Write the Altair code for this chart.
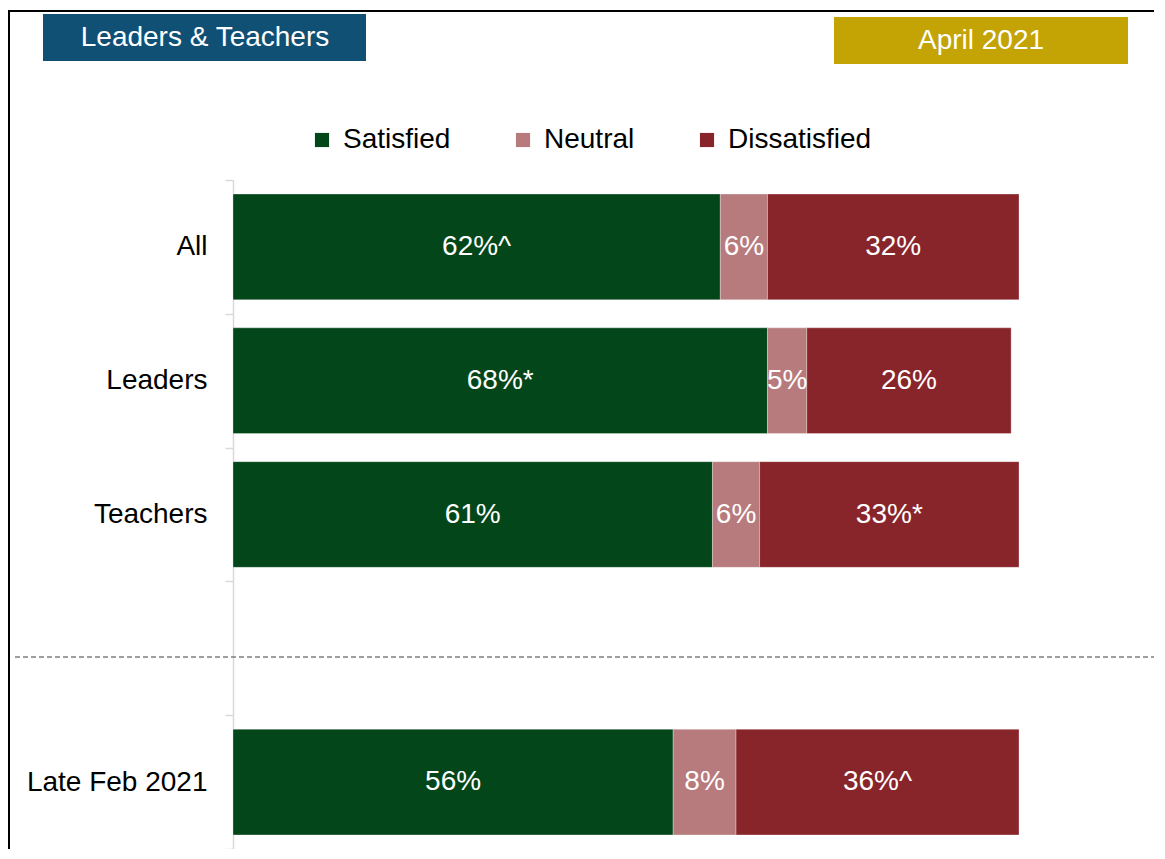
import altair as alt
import pandas as pd

groups = ["All", "Leaders", "Teachers", "Late Feb 2021"]
y_order = ["All", "Leaders", "Teachers", " ", "Late Feb 2021"]
responses = ["Satisfied", "Neutral", "Dissatisfied"]
satisfied = [62, 68, 61, 56]
neutral = [6, 5, 6, 8]
dissatisfied = [32, 26, 33, 36]
sat_marks = ["^", "*", "", ""]
neu_marks = ["", "", "", ""]
dis_marks = ["", "", "*", "^"]
colors = ["#03461A", "#B87B7D", "#88252B"]

FONT = "Liberation Sans"
FS = 28

rows = []
for i, g in enumerate(groups):
    for j, (r, vals, marks) in enumerate(zip(responses, [satisfied, neutral, dissatisfied],
                                            [sat_marks, neu_marks, dis_marks])):
        rows.append({"group": g, "response": r, "order": j, "value": vals[i],
                     "label": f"{vals[i]}%{marks[i]}"})
df = pd.DataFrame(rows)

W, H = 786, 669

y_scale = alt.Scale(domain=y_order, paddingInner=0, paddingOuter=0)
y_enc = alt.Y("group:N", scale=y_scale,
              axis=alt.Axis(title=None, labelFontSize=FS, labelColor="black", labelFont=FONT,
                            labelLimit=400,
                            tickBand="extent", tickSize=8, tickColor="#D9D9D9",
                            domainColor="#D9D9D9", domainWidth=1.5, tickWidth=1.5,
                            labelPadding=18))
x_scale = alt.Scale(domain=[0, 100], nice=False, zero=True)

base = alt.Chart(df).transform_stack(
    stack="value", as_=["x0", "x1"], groupby=["group"],
    sort=[alt.SortField("order", order="ascending")]
).transform_calculate(mid="(datum.x0 + datum.x1) / 2")

bars = base.mark_bar(height={"band": 0.79}, stroke="white", strokeWidth=0.5,
                     strokeOpacity=0.6).encode(
    y=y_enc,
    x=alt.X("x0:Q", scale=x_scale, axis=None),
    x2="x1:Q",
    color=alt.Color("response:N", scale=alt.Scale(domain=responses, range=colors),
                    legend=alt.Legend(orient="none", legendX=75, legendY=-54,
                                      direction="horizontal", title=None,
                                      symbolType="square", symbolSize=200,
                                      symbolStrokeWidth=0, symbolOpacity=1,
                                      labelFontSize=FS, labelFont=FONT, labelColor="black",
                                      symbolOffset=0, labelOffset=7, columnPadding=58)),
)

labels = base.mark_text(color="white", fontSize=FS, font=FONT).encode(
    y=alt.Y("group:N", scale=y_scale),
    x=alt.X("mid:Q", scale=x_scale),
    text="label:N",
)

# decorations
dash = alt.Chart(pd.DataFrame({"k": [0]})).mark_rule(
    color="#7F7F7F", strokeWidth=1.5, strokeDash=[5, 3]
).encode(x=alt.value(-218), x2=alt.value(935), y=alt.value(477))

frame = alt.Chart(pd.DataFrame({"k": [0]})).mark_rect(
    fill=None, stroke="black", strokeWidth=2
).encode(x=alt.value(-224), x2=alt.value(1000), y=alt.value(-169), y2=alt.value(800))

box1 = alt.Chart(pd.DataFrame({"t": ["Leaders & Teachers"]})).mark_rect(color="#115075").encode(
    x=alt.value(-190), x2=alt.value(133), y=alt.value(-166), y2=alt.value(-119))
box1t = alt.Chart(pd.DataFrame({"t": ["Leaders & Teachers"]})).mark_text(
    color="white", fontSize=FS, font=FONT, align="center", baseline="middle"
).encode(x=alt.value(-28), y=alt.value(-142), text="t:N")

box2 = alt.Chart(pd.DataFrame({"t": ["April 2021"]})).mark_rect(color="#C4A304").encode(
    x=alt.value(601), x2=alt.value(895), y=alt.value(-163), y2=alt.value(-116))
box2t = alt.Chart(pd.DataFrame({"t": ["April 2021"]})).mark_text(
    color="white", fontSize=FS, font=FONT, align="center", baseline="middle"
).encode(x=alt.value(748), y=alt.value(-139), text="t:N")

chart = alt.layer(frame, dash, bars, labels, box1, box1t, box2, box2t).properties(
    width=W, height=H,
    autosize=alt.AutoSizeParams(type="none"),
    padding={"left": 225, "top": 172, "right": 135, "bottom": 0},
    background="white",
).configure_view(stroke=None)

chart.save("out.html", embed_options={"renderer": "svg", "actions": False})
